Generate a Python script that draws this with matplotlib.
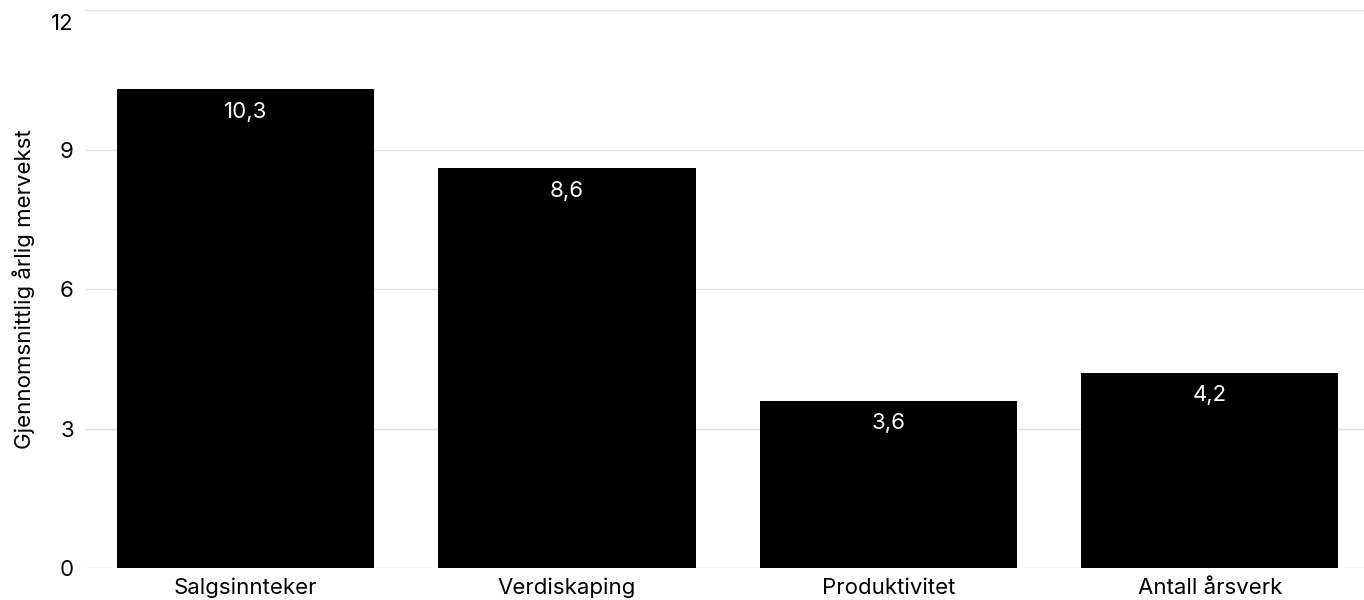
import matplotlib.pyplot as plt
from matplotlib.transforms import ScaledTranslation

categories = ['Salgsinnteker', 'Verdiskaping', 'Produktivitet', 'Antall årsverk']
values = [10.3, 8.6, 3.6, 4.2]
y_ticks = [0, 3, 6, 9, 12]

plt.rcParams['font.family'] = ['Inter', 'DejaVu Sans']

fig = plt.figure(figsize=(13.64, 6), dpi=100)
ax = fig.add_axes([0.0623, 0.0533, 0.9377, 0.93])

x = list(range(len(categories)))
bars = ax.bar(x, values, width=0.8, color='black', zorder=2)

# value labels inside the bars, near the top
for xi, v in zip(x, values):
    ax.text(xi, v - 0.27, f'{v:.1f}'.replace('.', ','), color='white',
            ha='center', va='top', fontsize=16, zorder=3)

ax.set_xlim(-0.5, 3.48)
ax.set_ylim(0, 12)
ax.set_yticks(y_ticks)
ax.set_xticks(x)
ax.set_xticklabels(categories)
ax.tick_params(axis='both', length=0, labelsize=16)
ax.tick_params(axis='y', pad=8)
ax.tick_params(axis='x', pad=7)
top_label = ax.get_yticklabels()[-1]
top_label.set_verticalalignment('top')
top_label.set_transform(top_label.get_transform() + ScaledTranslation(0, -0.04, fig.dpi_scale_trans))
ax.grid(axis='y', color='#e0e0e0', linewidth=1, zorder=0)
for s in ax.spines.values():
    s.set_visible(False)

ax.set_ylabel('Gjennomsnittlig årlig mervekst', fontsize=16, labelpad=12)

fig.savefig('out.png', dpi=100)
